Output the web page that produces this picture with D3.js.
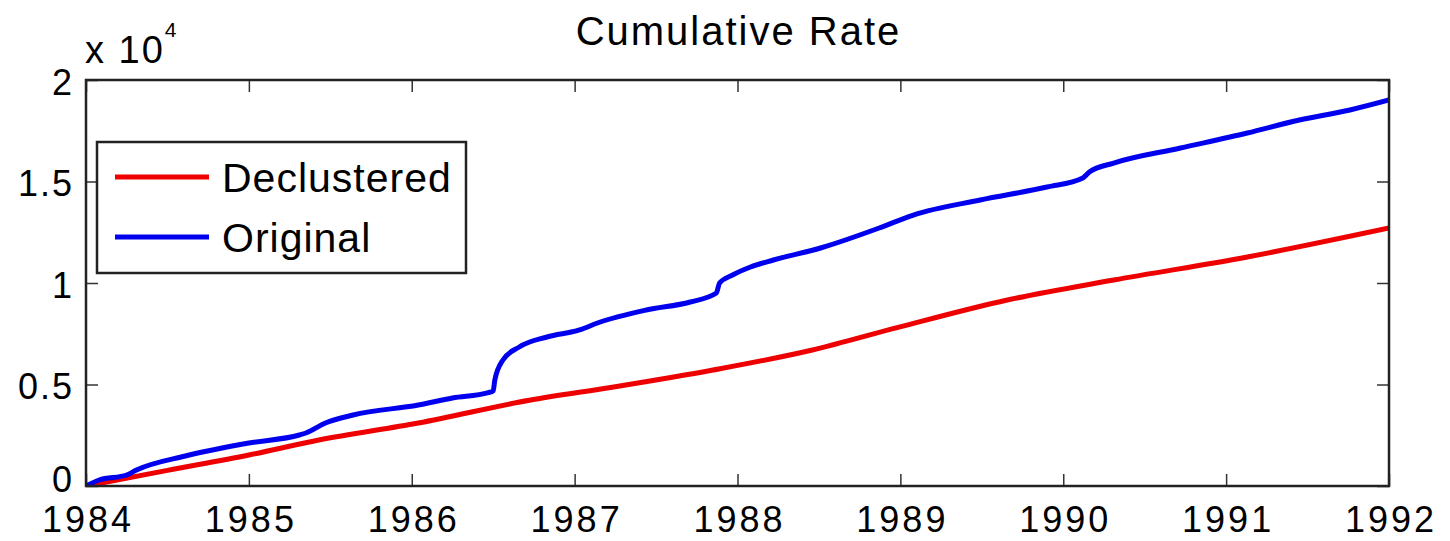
<!DOCTYPE html>
<html>
<head>
<meta charset="utf-8">
<script src="https://cdn.jsdelivr.net/npm/d3@7"></script>
<style>
  html, body { margin: 0; padding: 0; background: #fff; }
  svg { display: block; font-family: "Liberation Sans", Arial, Helvetica, sans-serif; }
</style>
</head>
<body>
<svg id="chart" width="1450" height="541"></svg>
<script>
// Cumulative event counts (x 10^4 scale on the axis), by decimal year
const originalYears = [1984.0, 1984.08, 1984.25, 1984.31, 1984.61, 1985.0, 1985.31, 1985.35, 1985.47, 1985.64,
  1986.04, 1986.25, 1986.47, 1986.50, 1986.51, 1986.56, 1986.66, 1986.83, 1987.03, 1987.14, 1987.44,
  1987.71, 1987.87, 1987.89, 1987.97, 1988.08, 1988.22, 1988.51, 1988.87, 1989.08, 1989.49, 1989.90,
  1990.12, 1990.16, 1990.31, 1990.72, 1991.13, 1991.45, 1991.76, 1992.0];
const originalCounts = [0, 296, 542, 788, 1478, 2118, 2512, 2611, 3103, 3497,
  3990, 4335, 4600, 4680, 5222, 6207, 6847, 7340, 7685, 8029, 8670,
  9064, 9507, 10000, 10394, 10788, 11133, 11724, 12709, 13349, 14088, 14729,
  15172, 15468, 15911, 16650, 17389, 18029, 18522, 19015];

const declusteredYears = [1984.0, 1984.5, 1985.0, 1985.43, 1986.04, 1986.73, 1987.24, 1987.85, 1988.46,
  1988.98, 1989.65, 1990.31, 1991.13, 1992.0];
const declusteredCounts = [0, 770, 1527, 2266, 3103, 4236, 4877, 5714, 6700,
  7800, 9150, 10148, 11281, 12709];

const xTicks = [1984, 1985, 1986, 1987, 1988, 1989, 1990, 1991, 1992];
const yTicks = [0, 5000, 10000, 15000, 20000];
const yTickLabels = ["0", "0.5", "1", "1.5", "2"];

const titleText = "Cumulative Rate";
const seriesNames = ["Declustered", "Original"];
const seriesColors = ["#ee0000", "#0000ee"];

const svg = d3.select("#chart");
const plotLeft = 86, plotRight = 1389, plotTop = 80, plotBottom = 486;

const x = d3.scaleLinear().domain([1984, 1992]).range([plotLeft, plotRight]);
const y = d3.scaleLinear().domain([0, 20000]).range([plotBottom, plotTop]);

const fontSize = 36;
const fontFamily = "'Liberation Sans', Arial, sans-serif";

// Title
svg.append("text")
  .attr("x", (plotLeft + plotRight) / 2 + 1).attr("y", 45)
  .attr("text-anchor", "middle")
  .attr("font-size", 40)
  .attr("letter-spacing", 2)
  .attr("fill", "#000")
  .text(titleText);

// Inward ticks on all four sides
const tickLen = 12;
function styleTicks(g) {
  g.select(".domain").remove();
  g.selectAll(".tick line").attr("stroke", "#333").attr("stroke-width", 1.5);
}

svg.append("g").attr("transform", `translate(0,${plotBottom})`)
  .call(d3.axisBottom(x).tickValues(xTicks).tickSizeInner(-tickLen).tickSizeOuter(0).tickPadding(20).tickFormat(d3.format("d")))
  .call(styleTicks)
  .call(g => g.selectAll(".tick text").attr("font-size", fontSize).attr("fill", "#000")
    .attr("font-family", fontFamily).attr("letter-spacing", 3).attr("dx", 1.5).attr("dy", "0.71em"));

svg.append("g").attr("transform", `translate(0,${plotTop})`)
  .call(d3.axisTop(x).tickValues(xTicks).tickSizeInner(-tickLen).tickSizeOuter(0).tickFormat(""))
  .call(styleTicks);

// The zero label sits a little higher so it clears the year labels below it
svg.append("g").attr("transform", `translate(${plotLeft},0)`)
  .call(d3.axisLeft(y).tickValues(yTicks).tickSizeInner(-tickLen).tickSizeOuter(0).tickPadding(12)
    .tickFormat((d, i) => yTickLabels[i]))
  .call(styleTicks)
  .call(g => g.selectAll(".tick text").attr("font-size", fontSize).attr("fill", "#000")
    .attr("font-family", fontFamily).attr("letter-spacing", 2)
    .attr("dy", d => d === 0 ? "0.14em" : "0.4em"));

svg.append("g").attr("transform", `translate(${plotRight},0)`)
  .call(d3.axisRight(y).tickValues(yTicks).tickSizeInner(-tickLen).tickSizeOuter(0).tickFormat(""))
  .call(styleTicks);

// Exponent marker above the y axis
const expo = svg.append("text")
  .attr("x", 85).attr("y", 63)
  .attr("font-size", 38)
  .attr("letter-spacing", 2)
  .attr("fill", "#000");
expo.append("tspan").text("x 10");
expo.append("tspan").attr("font-size", 21).attr("dy", -26).text("4");

// Series lines
const line = d3.line()
  .x(d => x(d[0]))
  .y(d => y(d[1]))
  .curve(d3.curveMonotoneX);

svg.append("clipPath").attr("id", "plot-clip")
  .append("rect").attr("x", plotLeft).attr("y", plotTop)
  .attr("width", plotRight - plotLeft).attr("height", plotBottom - plotTop);

const plot = svg.append("g").attr("clip-path", "url(#plot-clip)");

plot.append("path")
  .datum(declusteredYears.map((yr, i) => [yr, declusteredCounts[i]]))
  .attr("fill", "none")
  .attr("stroke", seriesColors[0])
  .attr("stroke-width", 5)
  .attr("stroke-linejoin", "round")
  .attr("d", line);

plot.append("path")
  .datum(originalYears.map((yr, i) => [yr, originalCounts[i]]))
  .attr("fill", "none")
  .attr("stroke", seriesColors[1])
  .attr("stroke-width", 5)
  .attr("stroke-linejoin", "round")
  .attr("d", line);

// Plot box
svg.append("rect")
  .attr("x", plotLeft).attr("y", plotTop)
  .attr("width", plotRight - plotLeft).attr("height", plotBottom - plotTop)
  .attr("fill", "none")
  .attr("stroke", "#222")
  .attr("stroke-width", 2.5);

// Legend
const legend = svg.append("g");
legend.append("rect")
  .attr("x", 97).attr("y", 142)
  .attr("width", 369).attr("height", 131)
  .attr("fill", "#fff")
  .attr("stroke", "#222")
  .attr("stroke-width", 2.5);

const legendRows = [177, 237];
seriesNames.forEach((name, i) => {
  legend.append("line")
    .attr("x1", 115).attr("x2", 209)
    .attr("y1", legendRows[i]).attr("y2", legendRows[i])
    .attr("stroke", seriesColors[i])
    .attr("stroke-width", 5);
  legend.append("text")
    .attr("x", 222).attr("y", legendRows[i] + 15)
    .attr("font-size", 41)
    .attr("letter-spacing", 1)
    .attr("fill", "#000")
    .text(name);
});
</script>
</body>
</html>
